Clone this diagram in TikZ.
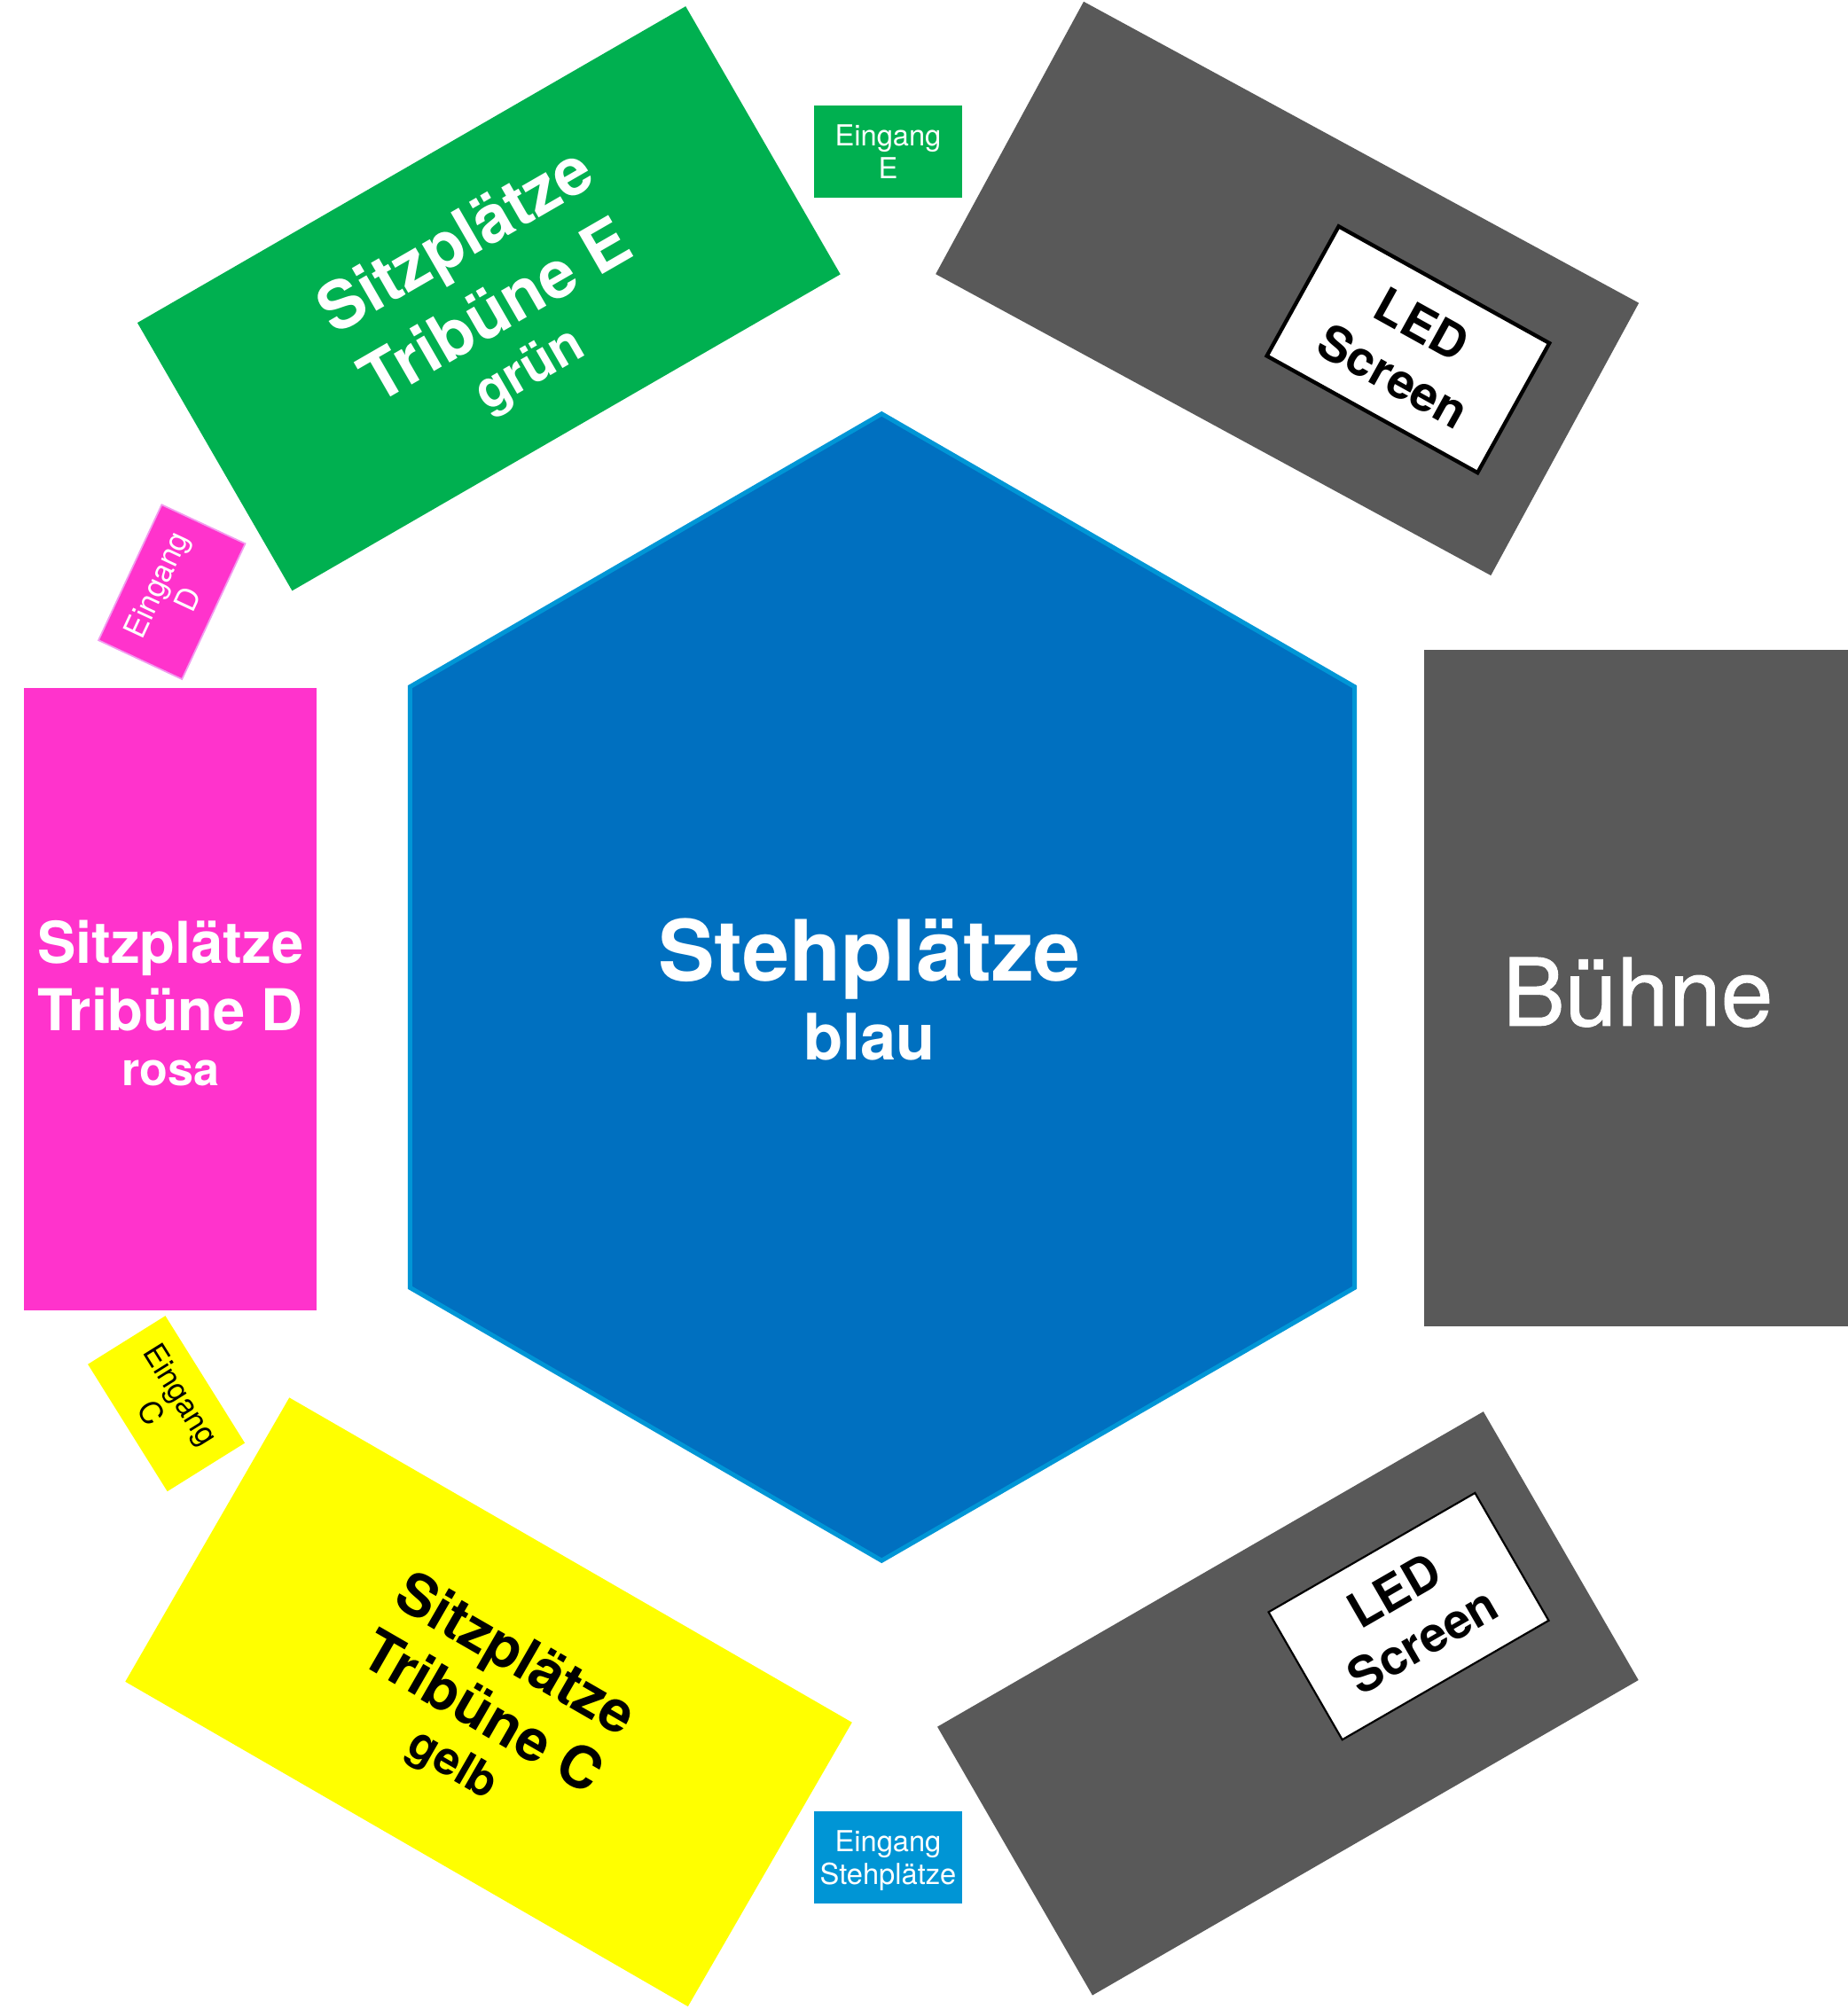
\documentclass[tikz,border=0pt]{standalone}
\usepackage{fontspec}
\setmainfont{TeX Gyre Heros}
\newfontfamily\stagefont{TeX Gyre Heros}[FakeBold=0.9]
\definecolor{hexblue}{HTML}{0070C0}
\definecolor{hexedge}{HTML}{0096D6}
\definecolor{entblue}{HTML}{0095D5}
\definecolor{tgreen}{HTML}{00B050}
\definecolor{tpink}{HTML}{FF33CC}
\definecolor{tyellow}{HTML}{FFFF00}
\definecolor{stagegray}{HTML}{595959}
\definecolor{pinkedge}{HTML}{F29BEF}
\tikzset{
  block/.style={rectangle, inner sep=0pt, outer sep=0pt, draw=none},
  rblock/.style={block, transform shape},
  txt/.style={inner sep=0pt, outer sep=0pt, anchor=base, transform shape},
  bigbold/.style={txt, font=\bfseries\fontsize{45}{45}\selectfont},
  smallbold/.style={txt, font=\bfseries\fontsize{36}{36}\selectfont},
  ledtxt/.style={txt, font=\bfseries\fontsize{38}{38}\selectfont, text=black},
  enttxt/.style={txt, font=\fontsize{22.6}{22.6}\selectfont},
  rottxt/.style={txt, font=\fontsize{24}{24}\selectfont},
  ledbox/.style={rblock, fill=white, draw=black}
}
\begin{document}
\begin{tikzpicture}[x=1pt,y=-1pt]
\useasboundingbox (0,0) rectangle (1442,1568);

% central standing area
\draw[fill=hexblue, draw=hexedge, line width=3.5pt, line join=miter]
  (688,323) -- (1057,536) -- (1057,1005) -- (688,1218) -- (320,1005) -- (320,536) -- cycle;
\node[txt, text=white, font=\bfseries\fontsize{66}{66}\selectfont] (steh) at (678.5,766) {Stehplätze};
\node[txt, text=white, font=\bfseries\fontsize{50}{50}\selectfont] (blau) at (678.5,827) {blau};

% stage
\node[block, fill=stagegray, minimum width=331pt, minimum height=528pt, anchor=north west] (stage) at (1111,507) {};
\node[txt, text=white, font=\stagefont\fontsize{73}{73}\selectfont] (buehne) at (1278,800.5) {Bühne};

% Tribüne D (pink)
\node[block, fill=tpink, minimum width=228pt, minimum height=486pt, anchor=north west] (tribD) at (19,537) {};
\node[bigbold, text=white] (d1) at (133,751.6) {Sitzplätze};
\node[bigbold, text=white] (d2) at (133,804.4) {Tribüne D};
\node[smallbold, text=white] (d3) at (133,847) {rosa};

% Tribüne E (green)
\begin{scope}[shift={(381.5,233)}, rotate=30]
  \node[rblock, fill=tgreen, minimum width=494pt, minimum height=241.5pt] (tribE) at (0,0) {};
  \node[txt, text=white, font=\bfseries\fontsize{51.5}{51.5}\selectfont] (e1) at (0,-35) {Sitzplätze};
  \node[txt, text=white, font=\bfseries\fontsize{51.5}{51.5}\selectfont] (e2) at (0,28) {Tribüne E};
  \node[txt, text=white, font=\bfseries\fontsize{41}{41}\selectfont] (e3) at (0,76) {grün};
\end{scope}

% Tribüne C (yellow)
\begin{scope}[shift={(381.3,1328.4)}, rotate=-30]
  \node[rblock, fill=tyellow, minimum width=507pt, minimum height=256pt] (tribC) at (0,0) {};
  \node[bigbold, text=black] (c1) at (0,-28) {Sitzplätze};
  \node[bigbold, text=black] (c2) at (0,24.5) {Tribüne C};
  \node[smallbold, text=black] (c3) at (0,67) {gelb};
\end{scope}

% upper screen block
\begin{scope}[shift={(1004.5,225.2)}, rotate=-28.5]
  \node[rblock, fill=stagegray, minimum width=493pt, minimum height=242pt] (grayTop) at (0,0) {};
\end{scope}
\begin{scope}[shift={(1098.8,272.8)}, rotate=-29]
  \node[ledbox, line width=3pt, minimum width=188pt, minimum height=115.6pt] (ledTop) at (0,0) {};
  \node[ledtxt] (lt1) at (0,-8.6) {LED};
  \node[ledtxt] (lt2) at (0,37.4) {Screen};
\end{scope}

% lower screen block
\begin{scope}[shift={(1005,1329.5)}, rotate=30]
  \node[rblock, fill=stagegray, minimum width=492pt, minimum height=242pt] (grayBot) at (0,0) {};
\end{scope}
\begin{scope}[shift={(1099.2,1261.5)}, rotate=30]
  \node[ledbox, line width=1.5pt, minimum width=186pt, minimum height=115pt] (ledBot) at (0,0) {};
  \node[ledtxt] (lb1) at (0,-9.3) {LED};
  \node[ledtxt] (lb2) at (0,35.4) {Screen};
\end{scope}

% entrances
\node[block, fill=tgreen, minimum width=116pt, minimum height=71.7pt] (entE) at (693,118.25) {};
\node[enttxt, text=white] (entE1) at (693,113.5) {Eingang};
\node[enttxt, text=white] (entE2) at (693,139.6) {E};

\node[block, fill=entblue, minimum width=116pt, minimum height=71.7pt] (entS) at (693,1449.6) {};
\node[enttxt, text=white] (entS1) at (693,1444.85) {Eingang};
\node[enttxt, text=white] (entS2) at (693,1470.95) {Stehplätze};

\begin{scope}[shift={(134.1,462)}, rotate=65]
  \node[rblock, fill=tpink, draw=pinkedge, line width=1.2pt, minimum width=116.7pt, minimum height=71.9pt] (entD) at (0,0) {};
  \node[rottxt, text=white] (entD1) at (0,-5) {Eingang};
  \node[rottxt, text=white] (entD2) at (0,22) {D};
\end{scope}

\begin{scope}[shift={(129.8,1095.5)}, rotate=-58]
  \node[rblock, fill=tyellow, minimum width=117pt, minimum height=71.3pt] (entC) at (0,0) {};
  \node[rottxt, text=black] (entC1) at (0,-5) {Eingang};
  \node[rottxt, text=black] (entC2) at (0,22) {C};
\end{scope}
\end{tikzpicture}
\end{document}
